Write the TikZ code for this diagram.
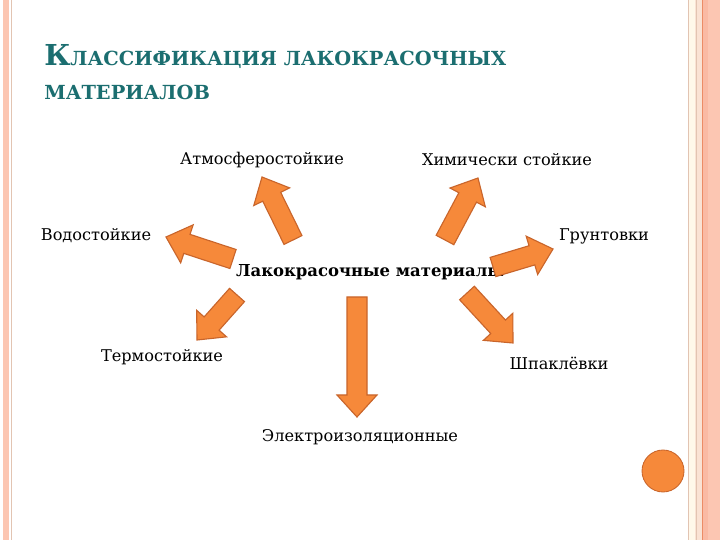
\documentclass[tikz,border=0pt]{standalone}
\usepackage{fontspec}
\setmainfont{DejaVu Serif}
\newfontfamily\titlefont{DejaVu Serif}
\usetikzlibrary{calc}

\definecolor{arrowfill}{RGB}{246,137,58}
\definecolor{arrowline}{RGB}{201,101,43}
\definecolor{titleteal}{RGB}{27,110,112}
\definecolor{stripsalmon}{RGB}{252,198,178}
\definecolor{strippeach}{RGB}{250,186,164}
\definecolor{stripcream}{RGB}{255,248,234}
\definecolor{stripsoft}{RGB}{250,226,212}
\definecolor{striptan}{RGB}{226,196,178}
\definecolor{striporange}{RGB}{236,140,102}

% block arrow from tail #1 to tip #2
\newcommand{\blockarrow}[2]{%
  \coordinate (ba_c) at ($(#2)!5.5mm!(#1)$);
  \draw[blockarrow] ($(#1)!2.5mm!90:(#2)$) -- ($(ba_c)!2.5mm!90:(#2)$)
    -- ($(ba_c)!5mm!90:(#2)$) -- (#2) -- ($(ba_c)!5mm!-90:(#2)$)
    -- ($(ba_c)!2.5mm!-90:(#2)$) -- ($(#1)!2.5mm!-90:(#2)$) -- cycle;
}

\begin{document}
\begin{tikzpicture}[x=1cm,y=1cm]
\tikzset{
  label/.style={inner sep=1pt,font=\fontsize{11.5}{13}\selectfont},
  rootlabel/.style={inner sep=1pt,font=\fontsize{11.7}{13}\selectfont\bfseries},
  blockarrow/.style={fill=arrowfill,draw=arrowline,line width=0.8pt,line join=miter},
  titleline/.style={anchor=base west,inner sep=0pt,text=titleteal,font=\titlefont\bfseries}
}
\useasboundingbox (0,0) rectangle (18,13.5);
\fill[white] (0,0) rectangle (18,13.5);

% side strips
\fill[stripsalmon] (0.075,0) rectangle (0.225,13.5);
\draw[striptan,line width=0.6pt] (0.29,0) -- (0.29,13.5);
\fill[stripcream] (17.225,0) rectangle (17.375,13.5);
\fill[stripsoft] (17.375,0) rectangle (17.55,13.5);
\fill[strippeach] (17.58,0) rectangle (17.7,13.5);
\fill[stripsalmon] (17.7,0) rectangle (18,13.5);
\draw[striptan,line width=0.8pt] (17.22,0) -- (17.22,13.5);
\draw[striptan,line width=0.5pt] (17.4,0) -- (17.4,13.5);
\draw[striporange,line width=0.9pt] (17.565,0) -- (17.565,13.5);

% title
\node[titleline] (title1) at (1.1,11.87)
  {{\fontsize{20.5}{21}\selectfont К}{\fontsize{13.8}{15}\selectfont ЛАССИФИКАЦИЯ ЛАКОКРАСОЧНЫХ}};
\node[titleline] (title2) at (1.1,11.0)
  {\fontsize{13.8}{15}\selectfont МАТЕРИАЛОВ};

% labels
\node[rootlabel] (root) at (9.25,6.7) {Лакокрасочные материалы};
\node[label] (atmo) at (6.55,9.5) {Атмосферостойкие};
\node[label] (chem) at (12.675,9.5) {Химически стойкие};
\node[label] (water) at (2.4,7.6) {Водостойкие};
\node[label] (primer) at (15.1,7.6) {Грунтовки};
\node[label] (heat) at (4.05,4.575) {Термостойкие};
\node[label] (putty) at (13.975,4.425) {Шпаклёвки};
\node[label] (elec) at (9.0,2.575) {Электроизоляционные};

% arrow ends
\coordinate (t_atmo) at (7.325,7.5);    \coordinate (h_atmo) at (6.55,9.075);
\coordinate (t_chem) at (11.125,7.5);   \coordinate (h_chem) at (11.95,9.05);
\coordinate (t_water) at (5.825,7.025); \coordinate (h_water) at (4.15,7.575);
\coordinate (t_primer) at (12.325,6.825); \coordinate (h_primer) at (13.825,7.275);
\coordinate (t_heat) at (5.925,6.125);  \coordinate (h_heat) at (4.925,5.0);
\coordinate (t_elec) at (8.925,6.075);  \coordinate (h_elec) at (8.925,3.075);
\coordinate (t_putty) at (11.675,6.175); \coordinate (h_putty) at (12.825,4.925);

\blockarrow{t_atmo}{h_atmo}
\blockarrow{t_chem}{h_chem}
\blockarrow{t_water}{h_water}
\blockarrow{t_primer}{h_primer}
\blockarrow{t_heat}{h_heat}
\blockarrow{t_elec}{h_elec}
\blockarrow{t_putty}{h_putty}

% corner dot
\node[circle,fill=arrowfill,draw=arrowline,line width=0.6pt,minimum size=1.05cm,inner sep=0pt] (dot) at (16.575,1.725) {};
\end{tikzpicture}
\end{document}
